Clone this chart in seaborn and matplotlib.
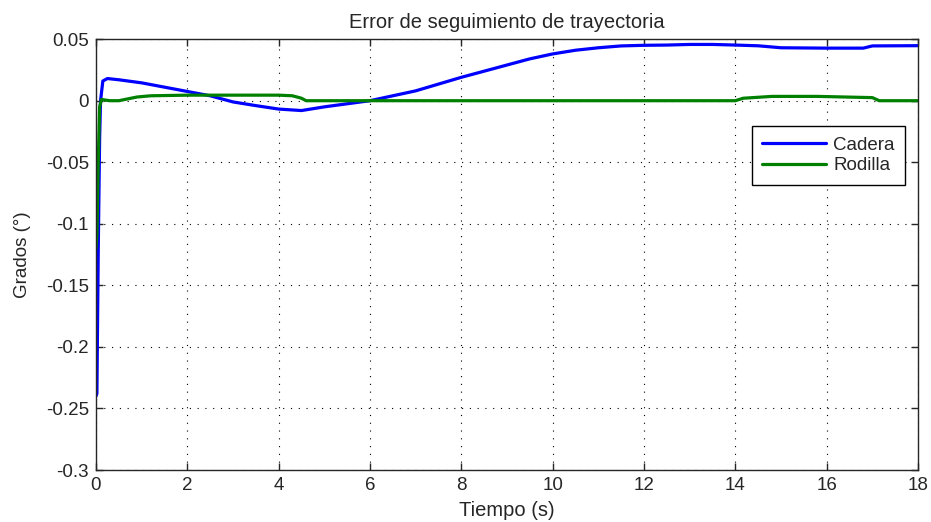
import pandas as pd
import seaborn as sns
import matplotlib.pyplot as plt

# Cadera (hip) error
t_cadera = [0, 0.02, 0.05, 0.08, 0.1, 0.15, 0.25, 0.5, 1.0, 1.5, 2.0, 2.5, 3.0, 3.5,
            4.0, 4.5, 5.0, 5.5, 6.0, 6.5, 7.0, 7.5, 8.0, 8.5, 9.0, 9.5, 10.0, 10.5,
            11.0, 11.5, 12.0, 12.5, 13.0, 13.5, 14.0, 14.5, 15.0, 16.0, 16.8, 17.0, 18.0]
e_cadera = [-0.24, -0.238, -0.12, -0.03, 0.0, 0.016, 0.018, 0.017, 0.0145, 0.011,
            0.0075, 0.004, -0.001, -0.004, -0.0068, -0.008, -0.005, -0.0025, 0.0,
            0.004, 0.008, 0.0135, 0.019, 0.024, 0.029, 0.034, 0.038, 0.041, 0.043,
            0.0445, 0.045, 0.0452, 0.0457, 0.0457, 0.0452, 0.0446, 0.043, 0.0427,
            0.0427, 0.0445, 0.0447]

# Rodilla (knee) error
t_rodilla = [0, 0.02, 0.05, 0.08, 0.12, 0.3, 0.5, 0.7, 0.9, 1.2, 2.0, 3.0, 4.0, 4.3,
             4.5, 4.6, 5.0, 10.0, 14.0, 14.17, 14.8, 15.8, 17.0, 17.15, 18.0]
e_rodilla = [-0.12, -0.109, -0.05, -0.005, 0.001, 0.0, 0.0, 0.0015, 0.003, 0.004,
             0.0045, 0.0045, 0.0045, 0.004, 0.002, 0.0, 0.0, 0.0, 0.0, 0.002, 0.0035,
             0.0035, 0.0025, 0.0, 0.0]

x_ticks = [0, 2, 4, 6, 8, 10, 12, 14, 16, 18]
y_ticks = [0.05, 0, -0.05, -0.1, -0.15, -0.2, -0.25, -0.3]
y_ticklabels = ['0.05', '0', '-0.05', '-0.1', '-0.15', '-0.2', '-0.25', '-0.3']

df = pd.concat([
    pd.DataFrame({'t': t_cadera, 'e': e_cadera, 'serie': 'Cadera'}),
    pd.DataFrame({'t': t_rodilla, 'e': e_rodilla, 'serie': 'Rodilla'}),
])

sns.set_style('white')
plt.rcParams['font.family'] = ['Liberation Sans', 'DejaVu Sans']
fs = 13.5

fig = plt.figure(figsize=(9.31, 5.22), dpi=100)
ax = fig.add_axes([0.1031, 0.0996, 0.883, 0.8254])

sns.lineplot(data=df, x='t', y='e', hue='serie', palette=['#0000ff', '#008000'],
             linewidth=2.3, estimator=None, sort=False, ax=ax)

ax.set_xlim(0, 18)
ax.set_ylim(-0.3, 0.05)
ax.set_xticks(x_ticks)
ax.set_yticks(y_ticks)
ax.set_yticklabels(y_ticklabels)
ax.grid(True, linestyle=(0, (1, 6)), color='black', linewidth=0.8)
ax.tick_params(direction='in', length=5, width=1, top=True, right=True,
               bottom=True, left=True, labelsize=fs, color='#262626', pad=5)
for s in ax.spines.values():
    s.set_color('#262626')
    s.set_linewidth(1)

ax.set_title('Error de seguimiento de trayectoria', fontsize=14.5, pad=8)
ax.set_xlabel('Tiempo (s)', fontsize=14.5, labelpad=5)
ax.set_ylabel('Grados (°)', fontsize=fs, labelpad=11)

leg = ax.legend(loc='upper right', bbox_to_anchor=(0.984, 0.798), borderaxespad=0,
                fancybox=False, framealpha=1, edgecolor='black', fontsize=fs,
                handlelength=3.4, handletextpad=0.4, labelspacing=0.2,
                borderpad=0.55)
leg.get_frame().set_linewidth(1)

fig.savefig('out.png', dpi=100)
